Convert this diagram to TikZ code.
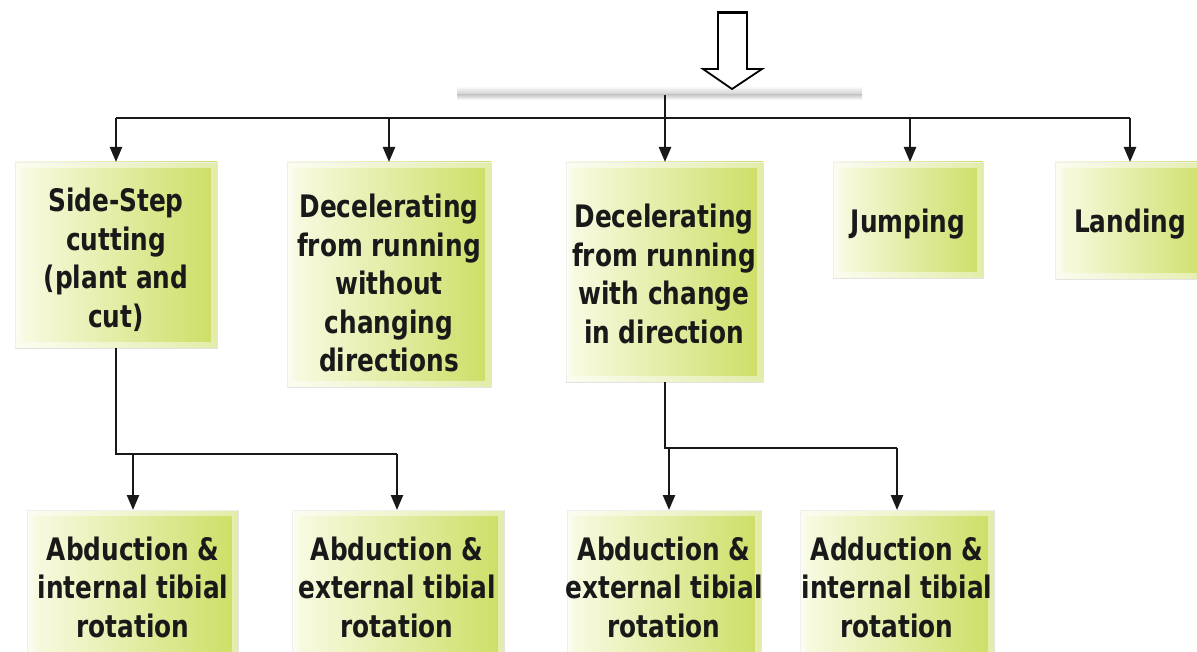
\documentclass[tikz,border=0pt]{standalone}
\usepackage{fontspec}
\newfontfamily\boxfont{DejaVu Sans}[FakeStretch=0.8]
\usetikzlibrary{arrows.meta,calc,backgrounds}
\definecolor{boxL}{RGB}{250,251,230}
\definecolor{boxR}{RGB}{205,222,100}
\definecolor{ink}{RGB}{25,25,25}
\tikzset{
  box/.style={draw=gray!22, line width=0.8pt, left color=boxL, right color=boxR, anchor=north west, outer sep=0pt, inner sep=0pt},
  txt/.style={font=\boxfont\bfseries\fontsize{31}{38.5}\selectfont, text=ink, align=center, inner sep=0pt},
  conn/.style={draw=ink, line width=2.4pt},
  arr/.style={conn, -{Triangle[length=15pt,width=12pt]}},
  rim/.style={draw=white, opacity=0.45, line width=6pt},
}
\begin{document}
\begin{tikzpicture}[x=1pt,y=-1pt]
\clip (0,0) rectangle (1197,652);
\fill[white] (0,0) rectangle (1197,652);
% top boxes
\node[box, minimum width=202pt, minimum height=186pt] (b1) at (15,162) {};
\node[box, minimum width=204pt, minimum height=225pt] (b2) at (287,162) {};
\node[box, minimum width=197pt, minimum height=220pt] (b3) at (566,162) {};
\node[box, minimum width=150pt, minimum height=116pt] (b4) at (833,162) {};
\node[box, minimum width=160pt, minimum height=117pt] (b5) at (1055,162) {};
% bottom boxes
\node[box, minimum width=211pt, minimum height=160pt] (a1) at (27,510) {};
\node[box, minimum width=212pt, minimum height=160pt] (a2) at (292,510) {};
\node[box, minimum width=194pt, minimum height=160pt] (a3) at (567,510) {};
\node[box, minimum width=194pt, minimum height=160pt] (a4) at (800,510) {};
\foreach \n in {b1,b2,b3,b4,b5,a1,a2,a3,a4}{
  \draw[rim] ($(\n.north west)+(3,3)$) rectangle ($(\n.south east)+(-3,-3)$);
}
\begin{scope}[on background layer]
\foreach \n in {b1,b2,b3,b4,b5,a1,a2,a3,a4}{
  \fill[gray!9] ($(\n.north west)+(-6,0)$) rectangle ($(\n.south east)+(6,8)$);
  \fill[gray!16] ($(\n.north west)+(-2.5,0)$) rectangle ($(\n.south east)+(2.5,3.5)$);
  \shade[top color=white, bottom color=gray!55] ($(\n.north west)+(-4,-21)$) rectangle ($(\n.north east)+(4,0)$);
}
\end{scope}
% texts
\node[txt] (l1) at (116,260) {Side-Step\\cutting\\(plant and\\cut)};
\node[txt] (l2) at (389,283) {Decelerating\\from running\\without\\changing\\directions};
\node[txt] (l3) at (664,274) {Decelerating\\from running\\with change\\in direction};
\node[txt] (l4) at (908,224) {Jumping};
\node[txt] (l5) at (1130,224) {Landing};
\node[txt] (m1) at (133,587) {Abduction \&\\internal tibial\\rotation};
\node[txt] (m2) at (397,587) {Abduction \&\\external tibial\\rotation};
\node[txt] (m3) at (664,587) {Abduction \&\\external tibial\\rotation};
\node[txt] (m4) at (897,587) {Adduction \&\\internal tibial\\rotation};
% header remnants
\shade[top color=white, bottom color=gray!40] (457,86) rectangle (862,95);
\shade[top color=gray!40, bottom color=white] (457,95) rectangle (862,100);
\draw[line width=1.8pt, fill=white, line join=miter] (718,12) -- (747,12) -- (747,69) -- (762,69) -- (732,89) -- (703,69) -- (718,69) -- cycle;
\draw[line width=3.2pt] (718,12.5) -- (747,12.5);
% connectors
\coordinate (src) at (665,95);
\coordinate (t1) at (116,118);
\coordinate (t2) at (389,118);
\coordinate (t4) at (910,118);
\coordinate (t5) at (1130,118);
\draw[conn] (t1) -- (t5);
\draw[arr] (src) -- (src |- b3.north);
\draw[arr] (t1) -- (t1 |- b1.north);
\draw[arr] (t2) -- (t2 |- b2.north);
\draw[arr] (t4) -- (t4 |- b4.north);
\draw[arr] (t5) -- (t5 |- b5.north);
% lower connectors
\coordinate (s1) at (116,454);
\coordinate (s1a) at (133,454);
\coordinate (s1b) at (397,454);
\draw[conn] (t1 |- b1.south) -- (s1) -- (s1b);
\draw[arr] (s1a) -- (s1a |- a1.north);
\draw[arr] (s1b) -- (s1b |- a2.north);
\coordinate (s3) at (665,448);
\coordinate (s3a) at (669,448);
\coordinate (s3b) at (897,448);
\draw[conn] (src |- b3.south) -- (s3) -- (s3b);
\draw[arr] (s3a) -- (s3a |- a3.north);
\draw[arr] (s3b) -- (s3b |- a4.north);
\end{tikzpicture}
\end{document}
